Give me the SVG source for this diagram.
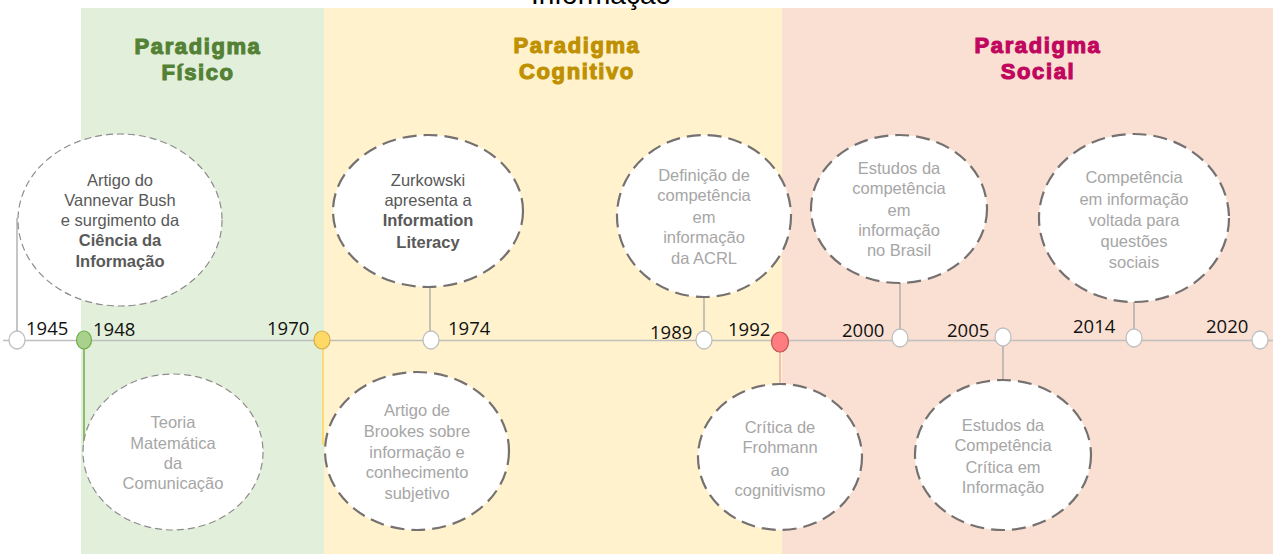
<svg xmlns="http://www.w3.org/2000/svg" width="1273" height="554" viewBox="0 0 1273 554">
<style>
.title{font-family:"Liberation Sans",Arial,sans-serif;font-weight:bold;font-size:22px;text-anchor:middle;letter-spacing:1.6px;stroke-width:1.1px}
.yr{font-family:"Open Sans","Liberation Sans",sans-serif;font-size:18.5px;fill:#111}
.et{font-family:"Liberation Sans",Arial,sans-serif;font-size:16.5px;text-anchor:middle;fill:#a6a6a6}
.dk{fill:#595959}
.b{font-weight:bold}
.thin{fill:#fff;stroke:#8c8c8c;stroke-width:1.2;stroke-dasharray:7 4}
.thick{fill:#fff;stroke:#767171;stroke-width:2.2;stroke-dasharray:14 7}
.dot{fill:#fff;stroke:#bfbfbf;stroke-width:1.3}
.conn{stroke:#a6a6a6;stroke-width:1.3;fill:none}
</style>
<rect x="0" y="0" width="1273" height="554" fill="#fff"/>
<g id="backgrounds">
<rect x="81" y="8" width="243" height="546" fill="#e2efda"/>
<rect x="324" y="8" width="458" height="546" fill="#fff2cc"/>
<rect x="782" y="8" width="491" height="546" fill="#f9e0d2"/>
</g>
<text x="601" y="4" font-family="Liberation Sans,Arial,sans-serif" font-size="28" text-anchor="middle" fill="#000">Informação</text>
<g id="titles">
<text class="title" x="198" y="54" fill="#538135" stroke="#538135">Paradigma</text>
<text class="title" x="198" y="79.5" fill="#538135" stroke="#538135">Físico</text>
<text class="title" x="577" y="53" fill="#bf9000" stroke="#bf9000">Paradigma</text>
<text class="title" x="577" y="78.5" fill="#bf9000" stroke="#bf9000">Cognitivo</text>
<text class="title" x="1038" y="53" fill="#c0065e" stroke="#c0065e">Paradigma</text>
<text class="title" x="1038" y="78.5" fill="#c0065e" stroke="#c0065e">Social</text>
</g>
<g id="connectors">
<line x1="3" y1="340.5" x2="1273" y2="340.5" stroke="#bfbfbf" stroke-width="1.5"/>
<line class="conn" x1="17" y1="218" x2="17" y2="333"/>
<line x1="84" y1="348" x2="84" y2="452" stroke="#70ad47" stroke-width="1.5"/>
<line x1="323" y1="348" x2="323" y2="445" stroke="#ffd966" stroke-width="1.8"/>
<line class="conn" x1="430" y1="287" x2="430" y2="332"/>
<line class="conn" x1="704" y1="297" x2="704" y2="332"/>
<line x1="780" y1="350" x2="780" y2="385" stroke="#e6a3a3" stroke-width="1.3"/>
<line class="conn" x1="900" y1="283" x2="900" y2="330"/>
<line class="conn" x1="1003" y1="346" x2="1003" y2="380"/>
<line class="conn" x1="1134" y1="302" x2="1134" y2="330"/>
</g>
<g id="n1945">
<ellipse class="dot" cx="17" cy="340" rx="8" ry="9"/>
<text class="yr" x="26" y="335">1945</text>
</g>
<g id="n1948">
<ellipse cx="84" cy="340" rx="7.5" ry="9" fill="#a9d18e" stroke="#70ad47" stroke-width="1.2"/>
<text class="yr" x="93" y="336">1948</text>
</g>
<g id="n1970">
<ellipse cx="322" cy="340" rx="8" ry="9" fill="#ffd966" stroke="#d6b04a" stroke-width="1.2"/>
<text class="yr" x="267" y="335">1970</text>
</g>
<g id="n1974">
<ellipse class="dot" cx="431" cy="340" rx="8" ry="9"/>
<text class="yr" x="448" y="335">1974</text>
</g>
<g id="n1989">
<ellipse class="dot" cx="704" cy="340" rx="8" ry="9"/>
<text class="yr" x="650" y="339">1989</text>
</g>
<g id="n1992">
<ellipse cx="780" cy="342" rx="8.5" ry="10" fill="#ff7c80" stroke="#c0504d" stroke-width="1.2"/>
<text class="yr" x="728" y="336">1992</text>
</g>
<g id="n2000">
<ellipse class="dot" cx="900" cy="338" rx="8" ry="9"/>
<text class="yr" x="842" y="337">2000</text>
</g>
<g id="n2005">
<ellipse class="dot" cx="1003" cy="337" rx="8" ry="9"/>
<text class="yr" x="947" y="337">2005</text>
</g>
<g id="n2014">
<ellipse class="dot" cx="1134" cy="338" rx="8" ry="9"/>
<text class="yr" x="1073" y="333">2014</text>
</g>
<g id="n2020">
<ellipse class="dot" cx="1260" cy="340" rx="8" ry="9"/>
<text class="yr" x="1206" y="333">2020</text>
</g>
<g id="e1945">
<ellipse class="thin" cx="120" cy="220" rx="102" ry="86"/>
<text class="et dk" x="120" y="186">Artigo do</text>
<text class="et dk" x="120" y="206">Vannevar Bush</text>
<text class="et dk" x="120" y="226">e surgimento da</text>
<text class="et dk b" x="120" y="246">Ciência da</text>
<text class="et dk b" x="120" y="267">Informação</text>
</g>
<g id="e1948">
<ellipse class="thin" cx="173" cy="452" rx="90" ry="78"/>
<text class="et" x="173" y="428">Teoria</text>
<text class="et" x="173" y="449">Matemática</text>
<text class="et" x="173" y="469">da</text>
<text class="et" x="173" y="489">Comunicação</text>
</g>
<g id="e1970">
<ellipse class="thick" cx="417" cy="451" rx="92" ry="79"/>
<text class="et" x="417" y="416">Artigo de</text>
<text class="et" x="417" y="437">Brookes sobre</text>
<text class="et" x="417" y="458">informação e</text>
<text class="et" x="417" y="478">conhecimento</text>
<text class="et" x="417" y="499">subjetivo</text>
</g>
<g id="e1974">
<ellipse class="thick" cx="428" cy="211" rx="95" ry="76"/>
<text class="et dk" x="428" y="186">Zurkowski</text>
<text class="et dk" x="428" y="206">apresenta a</text>
<text class="et dk b" x="428" y="226">Information</text>
<text class="et dk b" x="428" y="248">Literacy</text>
</g>
<g id="e1989">
<ellipse class="thick" cx="704" cy="216" rx="87" ry="81"/>
<text class="et" x="704" y="181">Definição de</text>
<text class="et" x="704" y="201">competência</text>
<text class="et" x="704" y="223">em</text>
<text class="et" x="704" y="243">informação</text>
<text class="et" x="704" y="264">da ACRL</text>
</g>
<g id="e1992">
<ellipse class="thick" cx="780" cy="457" rx="82" ry="73"/>
<text class="et" x="780" y="433">Crítica de</text>
<text class="et" x="780" y="453">Frohmann</text>
<text class="et" x="780" y="476">ao</text>
<text class="et" x="780" y="496">cognitivismo</text>
</g>
<g id="e2000">
<ellipse class="thick" cx="899" cy="209" rx="88" ry="74"/>
<text class="et" x="899" y="174">Estudos da</text>
<text class="et" x="899" y="194">competência</text>
<text class="et" x="899" y="216">em</text>
<text class="et" x="899" y="236">informação</text>
<text class="et" x="899" y="256">no Brasil</text>
</g>
<g id="e2005">
<ellipse class="thick" cx="1003" cy="455" rx="88" ry="75"/>
<text class="et" x="1003" y="431">Estudos da</text>
<text class="et" x="1003" y="451">Competência</text>
<text class="et" x="1003" y="473">Crítica em</text>
<text class="et" x="1003" y="493">Informação</text>
</g>
<g id="e2014">
<ellipse class="thick" cx="1134" cy="218" rx="95" ry="84"/>
<text class="et" x="1134" y="183">Competência</text>
<text class="et" x="1134" y="205">em informação</text>
<text class="et" x="1134" y="226">voltada para</text>
<text class="et" x="1134" y="247">questões</text>
<text class="et" x="1134" y="268">sociais</text>
</g>
</svg>
